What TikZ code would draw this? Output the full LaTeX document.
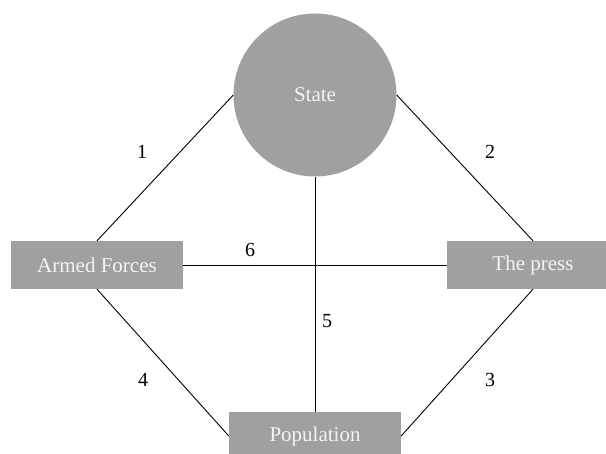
\documentclass[tikz,border=0pt]{standalone}
\usepackage{fontspec}
\setmainfont{Liberation Serif}
\definecolor{boxgray}{HTML}{A0A0A0}
\definecolor{labelwhite}{HTML}{F4F4F4}
\begin{document}
\begin{tikzpicture}[x=1pt,y=-1pt,
  actor/.style={fill=boxgray, draw=none, text=labelwhite, minimum width=172pt,
    minimum height=48pt, inner sep=0pt, font=\fontsize{21}{24}\selectfont},
  hub/.style={circle, fill=boxgray, draw=none, text=labelwhite, minimum size=163pt,
    inner sep=0pt, font=\fontsize{21}{24}\selectfont},
  link/.style={draw=black, line width=0.9pt},
  num/.style={font=\fontsize{20}{24}\selectfont, inner sep=0pt}]
  \useasboundingbox (0,0) rectangle (606,454);
  \clip (0,0) rectangle (606,454);

  % actors
  \node[hub] (state) at (315,95) {State};
  \node[actor] (army) at (97,265) {Armed Forces};
  \node[actor] (press) at (533,265) {The press};
  \node[actor] (people) at (315,436) {Population};

  % relations
  \draw[link] (state.west) -- (army.north);
  \draw[link] (state.east) -- (press.north);
  \draw[link] (army.south) -- (people.west);
  \draw[link] (press.south) -- (people.east);
  \draw[link] (state.south) -- (people.north);
  \draw[link] (army.east) -- (press.west);

  % relation numbers
  \node[num] (n1) at (142,152) {1};
  \node[num] (n2) at (490,152) {2};
  \node[num] (n6) at (250,250) {6};
  \node[num] (n5) at (327,321) {5};
  \node[num] (n4) at (143,380) {4};
  \node[num] (n3) at (490,380) {3};
\end{tikzpicture}
\end{document}
